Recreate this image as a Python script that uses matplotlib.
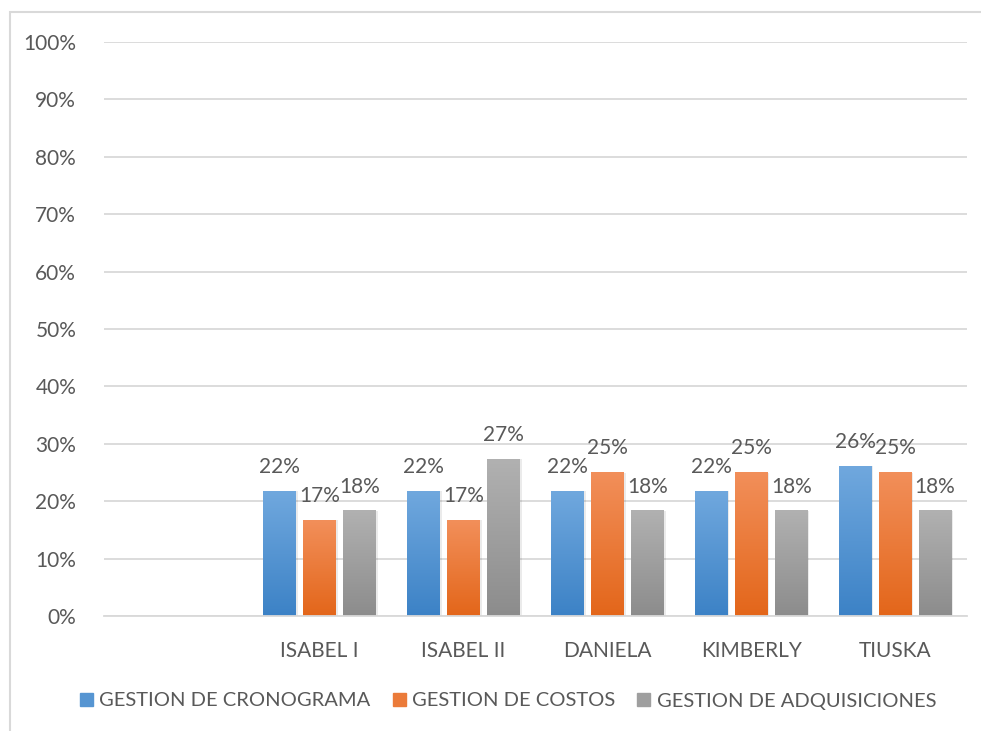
import matplotlib.pyplot as plt
import numpy as np
from matplotlib.colors import LinearSegmentedColormap, to_rgb
from matplotlib.patches import Patch, Rectangle

plt.rcParams["font.family"] = ["Lato", "DejaVu Sans"]

########
# Data
########
categories = ["", "ISABEL I", "ISABEL II", "DANIELA", "KIMBERLY", "TIUSKA"]
series_names = ["GESTION DE CRONOGRAMA", "GESTION DE COSTOS", "GESTION DE ADQUISICIONES"]

cronograma = [np.nan, 0.217, 0.217, 0.217, 0.217, 0.261]
costos = [np.nan, 0.167, 0.167, 0.250, 0.250, 0.250]
adquisiciones = [np.nan, 0.183, 0.273, 0.183, 0.183, 0.183]

y_ticks = [0, 0.1, 0.2, 0.3, 0.4, 0.5, 0.6, 0.7, 0.8, 0.9, 1.0]

# (top colour, bottom colour) for each series gradient
gradients = [
    ("#70a8de", "#3c82c6"),
    ("#f28f5a", "#e3661a"),
    ("#b1b1b1", "#8c8c8c"),
]

TEXT = "#595959"
GRID = "#d9d9d9"

#######
# Plot
#######
fig = plt.figure(figsize=(9.81, 7.31), dpi=100)
ax = fig.add_axes([104 / 981, 1 - 616 / 731, (967 - 104) / 981, (616 - 42) / 731])

# chart area outline (runs off the right and bottom edges)
fig.patches.append(Rectangle((10 / 981, -0.05), 1.2, 1 - 12 / 731 + 0.05,
                             transform=fig.transFigure, fill=False,
                             edgecolor="#d9d9d9", linewidth=1.5))

x = np.arange(len(categories))
width = 0.229
step = 0.278
grad = np.linspace(0, 1, 256).reshape(-1, 1)

for i, (values, name, (top, bottom)) in enumerate(
        zip([cronograma, costos, adquisiciones], series_names, gradients)):
    bars = ax.bar(x + (i - 1) * step, values, width, color=bottom, zorder=2)
    cmap = LinearSegmentedColormap.from_list(name, [bottom, top])
    for bar, v in zip(bars, values):
        if np.isnan(v):
            continue
        x0 = bar.get_x()
        x1 = x0 + bar.get_width()
        # faint shadow on the right-hand side
        ax.add_patch(Rectangle((x1, 0), 0.012, v, color="#000000", alpha=0.08,
                               linewidth=0, zorder=1.5))
        ax.imshow(grad, cmap=cmap, extent=(x0, x1, 0, v), origin="lower",
                  aspect="auto", zorder=2.5)
        ax.annotate(f"{v:.0%}", ((x0 + x1) / 2, v),
                    xytext=(0, 13), textcoords="offset points",
                    ha="center", va="baseline", fontsize=15, color=TEXT)

ax.set_xlim(-0.5, len(categories) - 0.5)
ax.set_ylim(0, 1)
ax.set_yticks(y_ticks)
ax.set_yticklabels([f"{t:.0%}" for t in y_ticks])
ax.set_xticks(x)
ax.set_xticklabels(categories)
ax.tick_params(axis="both", length=0, labelsize=15, labelcolor=TEXT)
ax.tick_params(axis="y", pad=20)
ax.tick_params(axis="x", pad=18)
ax.grid(axis="y", color=GRID, linewidth=1.3, zorder=0)
ax.set_axisbelow(True)
for side in ["top", "right", "left"]:
    ax.spines[side].set_visible(False)
ax.spines["bottom"].set_color(GRID)
ax.spines["bottom"].set_linewidth(1.3)

# legend swatches use the middle of each gradient
handles = [Patch(color=(np.array(to_rgb(top)) + np.array(to_rgb(bottom))) / 2)
           for top, bottom in gradients]
fig.legend(handles, series_names, loc="center", bbox_to_anchor=(0.518, 1 - 701 / 731),
           ncol=3, frameon=False, fontsize=14.5, labelcolor=TEXT,
           handlelength=0.65, handleheight=0.65, handletextpad=0.3,
           columnspacing=1.1)

fig.savefig("out.png", dpi=100)
